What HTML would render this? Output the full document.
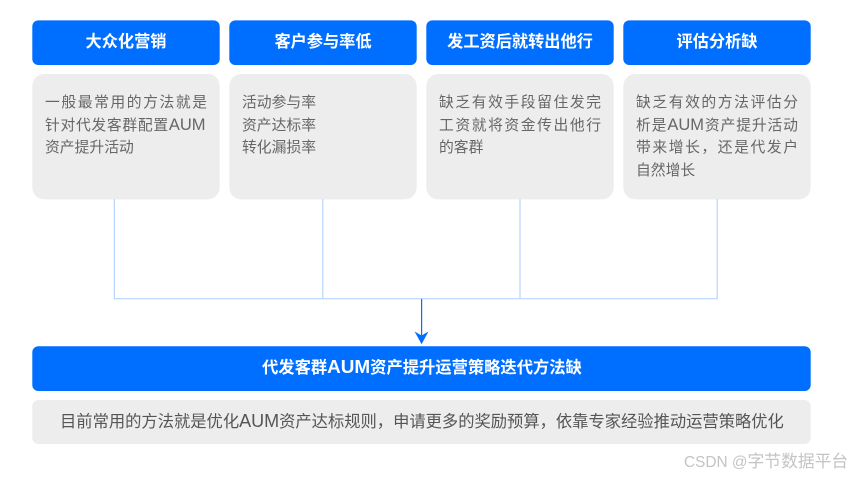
<!DOCTYPE html>
<html lang="zh">
<head>
<meta charset="utf-8">
<style>
html,body{margin:0;padding:0;background:#fff;}
#c{position:relative;width:852px;height:478px;overflow:hidden;background:#fff;font-family:"Liberation Sans","Noto Sans CJK SC",sans-serif;}
.h,.bar,.sub{position:absolute;box-sizing:border-box;}
.h{top:20px;width:187px;height:45px;color:#fff;font-weight:bold;font-size:16.2px;line-height:45px;text-align:center;white-space:nowrap;}
.l{position:absolute;height:22.7px;line-height:22.7px;font-size:14.8px;color:#666;white-space:nowrap;}
.j{text-align:justify;text-align-last:justify;white-space:normal;width:162px;}
.l i{font-style:normal;font-size:16.5px;line-height:0;}
.bar{left:262px;top:346px;height:45px;color:#fff;font-weight:bold;font-size:16.3px;line-height:45px;white-space:nowrap;}
.bar i{font-style:normal;font-size:18.9px;line-height:0;}
.sub{left:60px;top:400px;height:44px;color:#555;font-size:16.3px;line-height:44px;white-space:nowrap;}
.sub i{font-style:normal;font-size:18px;line-height:0;}
.wm{position:absolute;left:684px;top:453px;font-size:15.4px;line-height:20px;color:#c4c4c4;white-space:nowrap;}
.wm i{font-style:normal;font-size:16.8px;line-height:0;}
svg{position:absolute;left:0;top:0;}
</style>
</head>
<body>
<div id="c">
<svg width="852" height="478" viewBox="0 0 852 478">
<g fill="#006fff">
<rect x="32.3" y="20.4" width="187.4" height="44.6" rx="6"/>
<rect x="229.3" y="20.4" width="187.4" height="44.6" rx="6"/>
<rect x="426.3" y="20.4" width="187.4" height="44.6" rx="6"/>
<rect x="623.3" y="20.4" width="187.4" height="44.6" rx="6"/>
<rect x="32.3" y="346.2" width="778.4" height="44.8" rx="6"/>
</g>
<g fill="#ededed">
<rect x="32.3" y="74" width="187.4" height="125.4" rx="12"/>
<rect x="229.3" y="74" width="187.4" height="125.4" rx="12"/>
<rect x="426.3" y="74" width="187.4" height="125.4" rx="12"/>
<rect x="623.3" y="74" width="187.4" height="125.4" rx="12"/>
<rect x="32.3" y="400" width="778.4" height="44" rx="6"/>
</g>
<g stroke="#b8d6ff" stroke-width="1.2" fill="none">
<path d="M114.4 199V298.7H717.2V199"/>
<path d="M322.8 199V298.7"/>
<path d="M520 199V298.7"/>
</g>
<path d="M421.6 299V336" stroke="#0a6fef" stroke-width="1.2" fill="none"/>
<path d="M414.6 331.5L421.6 335.5L428.4 331.5L421.6 344.3Z" fill="#006fff"/>
</svg>

<div class="h" style="left:32.5px">大众化营销</div>
<div class="h" style="left:229.5px">客户参与率低</div>
<div class="h" style="left:426.5px">发工资后就转出他行</div>
<div class="h" style="left:623.5px">评估分析缺</div>

<div class="l j" style="left:45px;top:92px">一般最常用的方法就是</div>
<div class="l j" style="left:45px;top:114.7px;width:160.5px">针对代发客群配置<i>AUM</i></div>
<div class="l" style="left:45px;top:137.4px">资产提升活动</div>

<div class="l" style="left:242px;top:92px">活动参与率</div>
<div class="l" style="left:242px;top:114.7px">资产达标率</div>
<div class="l" style="left:242px;top:137.4px">转化漏损率</div>

<div class="l j" style="left:439px;top:92px">缺乏有效手段留住发完</div>
<div class="l j" style="left:439px;top:114.7px">工资就将资金传出他行</div>
<div class="l" style="left:439px;top:137.4px">的客群</div>

<div class="l j" style="left:636px;top:92px">缺乏有效的方法评估分</div>
<div class="l j" style="left:636px;top:114.7px">析是<i>AUM</i>资产提升活动</div>
<div class="l j" style="left:636px;top:137.4px">带来增长，还是代发户</div>
<div class="l" style="left:636px;top:160.1px">自然增长</div>

<div class="bar">代发客群<i>AUM</i>资产提升运营策略迭代方法缺</div>
<div class="sub">目前常用的方法就是优化<i>AUM</i>资产达标规则，申请更多的奖励预算，依靠专家经验推动运营策略优化</div>
<div class="wm">CSDN @<i>字节数据平台</i></div>
</div>
</body>
</html>
